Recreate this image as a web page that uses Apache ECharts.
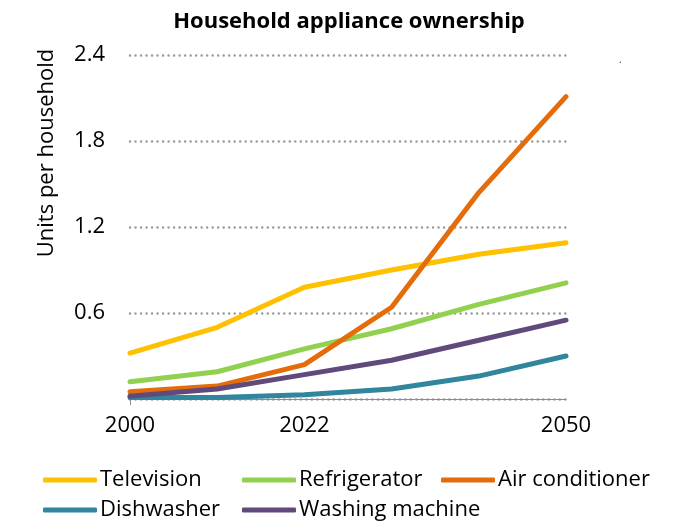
<!DOCTYPE html>
<html>
<head>
<meta charset="utf-8">
<script src="https://cdn.jsdelivr.net/npm/echarts@6/dist/echarts.min.js"></script>
<style>html,body{margin:0;padding:0;background:#fff;}#c{width:680px;height:532px;}</style>
</head>
<body>
<div id="c"></div>
<script>
const categories = ['2000', '2010', '2022', '2030', '2040', '2050'];
const shownYears = ['2000', '2022', '2050'];
const yTicks = [0, 0.6, 1.2, 1.8, 2.4];
const television = [0.32, 0.50, 0.78, 0.90, 1.01, 1.09];
const refrigerator = [0.12, 0.19, 0.35, 0.49, 0.66, 0.81];
const airConditioner = [0.05, 0.09, 0.24, 0.64, 1.44, 2.11];
const dishwasher = [0.01, 0.01, 0.03, 0.07, 0.16, 0.30];
const washingMachine = [0.02, 0.07, 0.17, 0.27, 0.41, 0.55];

const FONT = '"Open Sans", "Noto Sans", sans-serif';
const colors = {
  'Television': '#FFC000',
  'Refrigerator': '#92D050',
  'Air conditioner': '#E46C0A',
  'Dishwasher': '#31859C',
  'Washing machine': '#604A7B'
};
function mkSeries(name, data) {
  return {
    name: name, type: 'line', data: data, symbol: 'none', smooth: false,
    lineStyle: { width: 5, color: colors[name], cap: 'round', join: 'round' },
    itemStyle: { color: colors[name] }
  };
}
function mkLegend(left, names) {
  return {
    orient: 'vertical', left: left, top: 462, itemGap: 4,
    itemWidth: 54, itemHeight: 5, icon: 'roundRect',
    data: names,
    textStyle: { fontFamily: FONT, fontSize: 22, color: '#000', lineHeight: 26, padding: [0, 0, 0, -2] }
  };
}
const chart = echarts.init(document.getElementById('c'));
chart.setOption({
  animation: false,
  backgroundColor: '#fff',
  title: {
    text: 'Household appliance ownership', left: 344, textAlign: 'center', top: 6,
    textStyle: { fontFamily: FONT, fontSize: 22, fontWeight: 'bold', color: '#000' }
  },
  legend: [
    mkLegend(38, ['Television', 'Dishwasher']),
    mkLegend(237, ['Refrigerator', 'Washing machine']),
    mkLegend(436, ['Air conditioner'])
  ],
  grid: { left: 130, right: 114, top: 55, bottom: 133, containLabel: false },
  xAxis: {
    type: 'category', data: categories, boundaryGap: false,
    axisLine: { show: true, lineStyle: { color: '#8c8c8c', width: 1 } },
    axisTick: { show: true, interval: function (i) { return i === 0; }, length: 6, lineStyle: { color: '#8c8c8c' } },
    axisLabel: {
      interval: function (i, v) { return shownYears.indexOf(v) >= 0; },
      fontFamily: FONT, fontSize: 22, color: '#000', margin: 16
    },
    splitLine: { show: false }
  },
  yAxis: {
    type: 'value', min: yTicks[0], max: yTicks[yTicks.length - 1], interval: 0.6,
    axisLine: { show: false }, axisTick: { show: false },
    axisLabel: {
      fontFamily: FONT, fontSize: 22, color: '#000', margin: 25,
      formatter: function (v) { return v === 0 ? '' : v.toFixed(1); }
    },
    splitLine: { show: true, lineStyle: { color: '#9a9a9a', width: 2.5, type: [0.01, 5.5], cap: 'round' } }
  },
  graphic: [
    {
      type: 'text', x: 47, y: 153, rotation: Math.PI / 2,
      style: { text: 'Units per household', fontFamily: FONT, fontSize: 22, fill: '#000', align: 'center', verticalAlign: 'middle' }
    },
    {
      type: 'text', x: 619, y: 55,
      style: { text: '.', fontFamily: FONT, fontSize: 10, fill: '#444' }
    }
  ],
  series: [
    mkSeries('Television', television),
    mkSeries('Refrigerator', refrigerator),
    mkSeries('Air conditioner', airConditioner),
    mkSeries('Dishwasher', dishwasher),
    mkSeries('Washing machine', washingMachine)
  ]
});
</script>
</body>
</html>
